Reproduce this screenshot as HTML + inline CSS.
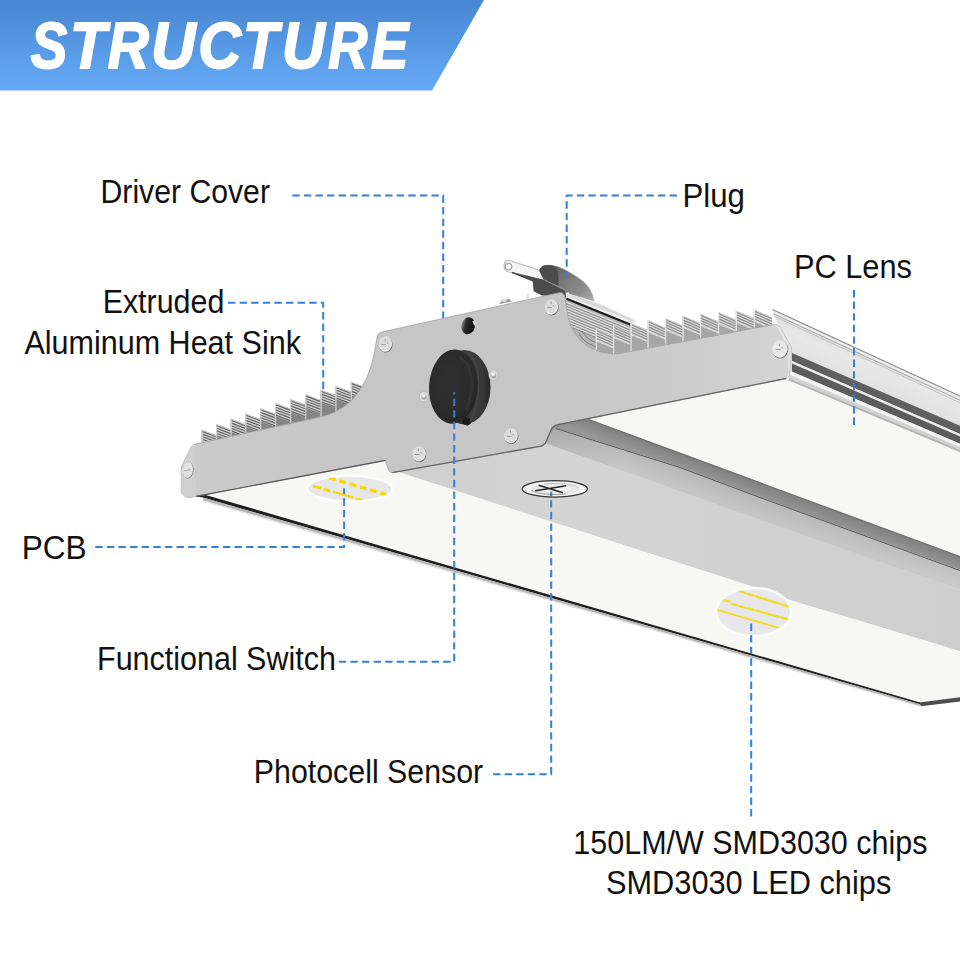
<!DOCTYPE html>
<html><head><meta charset="utf-8"><title>Structure</title>
<style>html,body{margin:0;padding:0;background:#fff;}body{width:960px;height:960px;overflow:hidden;font-family:"Liberation Sans",sans-serif;}svg{display:block;}</style>
</head><body>
<svg width="960" height="960" viewBox="0 0 960 960">
<defs>
<linearGradient id="ban" x1="0" y1="0" x2="0" y2="1"><stop offset="0" stop-color="#4786d1"/><stop offset="1" stop-color="#65aaf6"/></linearGradient>
<linearGradient id="cap" x1="0" y1="0" x2="1" y2="0"><stop offset="0" stop-color="#cbcbcb"/><stop offset="0.3" stop-color="#c6c6c6"/><stop offset="0.62" stop-color="#c6c6c6"/><stop offset="0.88" stop-color="#cecece"/><stop offset="1" stop-color="#d5d5d5"/></linearGradient>
<linearGradient id="chan" x1="0" y1="0" x2="1" y2="0"><stop offset="0" stop-color="#cecece"/><stop offset="0.3" stop-color="#d4d4d4"/><stop offset="1" stop-color="#cecece"/></linearGradient>
<linearGradient id="rail" gradientUnits="userSpaceOnUse" x1="800" y1="326" x2="787" y2="358"><stop offset="0" stop-color="#dedede"/><stop offset="0.3" stop-color="#e8e8e8"/><stop offset="1" stop-color="#e0e0e0"/></linearGradient>
<linearGradient id="dband" gradientUnits="userSpaceOnUse" x1="589" y1="419" x2="584.2" y2="432"><stop offset="0" stop-color="#666666"/><stop offset="0.14" stop-color="#828282"/><stop offset="0.6" stop-color="#8c8c8c"/><stop offset="1" stop-color="#969696"/></linearGradient>
<linearGradient id="lband" gradientUnits="userSpaceOnUse" x1="589" y1="432" x2="581" y2="455"><stop offset="0" stop-color="#b6b6b6"/><stop offset="1" stop-color="#c8c8c8"/></linearGradient>
<linearGradient id="lshade" gradientUnits="userSpaceOnUse" x1="546" y1="0" x2="960" y2="0"><stop offset="0" stop-color="#000" stop-opacity="0.10"/><stop offset="0.18" stop-color="#000" stop-opacity="0.0"/><stop offset="1" stop-color="#fff" stop-opacity="0.06"/></linearGradient>
<linearGradient id="hole" x1="0" y1="0" x2="1" y2="0"><stop offset="0" stop-color="#8a8a8a"/><stop offset="0.3" stop-color="#2a2a2a"/><stop offset="1" stop-color="#0e0e0e"/></linearGradient>
<radialGradient id="knob" cx="0.42" cy="0.42" r="0.62"><stop offset="0" stop-color="#303030"/><stop offset="0.75" stop-color="#2b2b2b"/><stop offset="1" stop-color="#242424"/></radialGradient>
<linearGradient id="rim" x1="0" y1="0" x2="1" y2="0"><stop offset="0" stop-color="#333"/><stop offset="0.6" stop-color="#3e3e3e"/><stop offset="0.85" stop-color="#383838"/><stop offset="1" stop-color="#262626"/></linearGradient>
<linearGradient id="plugb" gradientUnits="userSpaceOnUse" x1="556" y1="268" x2="592" y2="300"><stop offset="0" stop-color="#646464"/><stop offset="0.3" stop-color="#787878"/><stop offset="0.7" stop-color="#8c8c8c"/><stop offset="1" stop-color="#a8a8a8"/></linearGradient>
</defs>
<rect width="960" height="960" fill="#fff"/>
<polygon points="0.0,0.0 484.0,0.0 432.0,90.5 0.0,90.5" fill="url(#ban)" />
<text transform="translate(30.73,68.1) scale(0.8557,1.012)" font-family="Liberation Sans, sans-serif" font-weight="bold" font-style="italic" font-size="64" fill="#fff" stroke="#fff" stroke-width="1.8">S</text>
<text transform="translate(70.00,68.1) scale(0.9241,1.012)" font-family="Liberation Sans, sans-serif" font-weight="bold" font-style="italic" font-size="64" fill="#fff" stroke="#fff" stroke-width="1.8">T</text>
<text transform="translate(107.86,68.1) scale(0.8900,1.012)" font-family="Liberation Sans, sans-serif" font-weight="bold" font-style="italic" font-size="64" fill="#fff" stroke="#fff" stroke-width="1.8">R</text>
<text transform="translate(151.07,68.1) scale(0.9638,1.012)" font-family="Liberation Sans, sans-serif" font-weight="bold" font-style="italic" font-size="64" fill="#fff" stroke="#fff" stroke-width="1.8">U</text>
<text transform="translate(198.21,68.1) scale(0.9243,1.012)" font-family="Liberation Sans, sans-serif" font-weight="bold" font-style="italic" font-size="64" fill="#fff" stroke="#fff" stroke-width="1.8">C</text>
<text transform="translate(242.99,68.1) scale(0.9013,1.012)" font-family="Liberation Sans, sans-serif" font-weight="bold" font-style="italic" font-size="64" fill="#fff" stroke="#fff" stroke-width="1.8">T</text>
<text transform="translate(282.11,68.1) scale(0.9257,1.012)" font-family="Liberation Sans, sans-serif" font-weight="bold" font-style="italic" font-size="64" fill="#fff" stroke="#fff" stroke-width="1.8">U</text>
<text transform="translate(328.19,68.1) scale(0.8480,1.012)" font-family="Liberation Sans, sans-serif" font-weight="bold" font-style="italic" font-size="64" fill="#fff" stroke="#fff" stroke-width="1.8">R</text>
<text transform="translate(370.91,68.1) scale(0.8755,1.012)" font-family="Liberation Sans, sans-serif" font-weight="bold" font-style="italic" font-size="64" fill="#fff" stroke="#fff" stroke-width="1.8">E</text>
<polygon points="772.0,309.0 960.0,395.5 960.0,453.0 788.0,378.0 791.0,349.0 777.0,322.0" fill="url(#rail)" />
<line x1="772.5" y1="309.5" x2="960.0" y2="396.0" stroke="#8c8c8c" stroke-width="1.1" />
<line x1="772.5" y1="311.6" x2="960.0" y2="398.2" stroke="#f2f2f2" stroke-width="1.2" />
<line x1="773.0" y1="313.6" x2="960.0" y2="400.2" stroke="#a2a2a2" stroke-width="0.9" />
<line x1="774.0" y1="316.2" x2="960.0" y2="402.8" stroke="#bdbdbd" stroke-width="0.8" />
<polygon points="792.0,353.0 960.0,425.8 960.0,434.0 792.0,361.0" fill="#606060" />
<polygon points="792.0,361.0 960.0,434.0 960.0,436.6 792.0,363.5" fill="#ececec" />
<polygon points="792.0,363.5 960.0,436.6 960.0,443.8 792.0,371.5" fill="#5c5c5c" />
<polygon points="791.0,371.5 960.0,443.8 960.0,447.0 790.0,375.0" fill="#f4f4f4" />
<polygon points="790.0,375.0 960.0,447.0 960.0,450.0 789.0,378.5" fill="#d2d2d2" />
<polygon points="789.0,378.5 960.0,450.0 960.0,452.4 788.0,380.5" fill="#b4b4b2" />
<polygon points="589.0,419.0 788.0,377.5 788.0,380.3 960.0,452.2 960.0,556.0" fill="#f7f7f4" />
<polygon points="546.0,432.0 560.0,421.0 566.0,432.0 548.0,447.0" fill="#9a9a9a" />
<polygon points="553.0,425.0 589.0,419.0 960.0,556.0 960.0,570.0 760.0,497.0 680.0,467.0 556.0,428.0" fill="url(#dband)" />
<polygon points="556.0,428.0 680.0,467.0 760.0,497.0 960.0,570.0 960.0,590.0 760.0,521.0 680.0,491.7 546.0,444.0 549.0,434.0" fill="url(#lband)" />
<polygon points="556.0,428.0 680.0,467.0 760.0,497.0 960.0,570.0 960.0,590.0 760.0,521.0 680.0,491.7 546.0,444.0 549.0,434.0" fill="url(#lshade)" />
<polyline points="556,428.5 680,467.5 760,497.5 960,570.5" fill="none" stroke="#5c5c5c" stroke-width="1.1"/>
<polyline points="546,444 680,491.7 760,521 960,590" fill="none" stroke="#d4d4d4" stroke-width="1"/>
<polygon points="385.0,472.0 544.0,445.0 546.0,444.0 960.0,590.0 960.0,651.3 880.0,626.9 791.0,600.6 750.0,585.8 600.0,537.5 398.0,472.0" fill="url(#chan)" />
<polygon points="196.0,496.0 386.0,460.0 392.0,473.0 398.0,472.0 600.0,537.5 750.0,585.8 791.0,600.6 880.0,626.9 960.0,651.3 960.0,698.0 920.0,702.8 203.0,494.6" fill="#f7f7f4" />
<polygon points="919.0,702.5 960.0,697.2 960.0,701.6 921.0,706.3" fill="#4e4e4e" />
<polygon points="196.0,493.2 203.0,494.2 920.0,702.5 920.0,704.2 203.0,497.6 196.0,496.6" fill="#1f1f1f" />
<polygon points="203.0,497.6 920.0,704.2 920.0,706.0 203.0,500.2" fill="#a9a9a9" opacity="0.85"/>
<polygon points="203.0,500.2 920.0,706.0 920.0,707.0 203.0,501.6" fill="#d8d8d8" opacity="0.7"/>
<polygon points="201.5,429.8 216.0,435.0 216.0,443.1 201.5,446.2" fill="#858585" />
<polygon points="201.5,429.8 216.0,435.0 216.0,448.0 201.5,442.8" fill="#dadada" />
<line x1="202.3" y1="431.5" x2="216.0" y2="436.7" stroke="#5e5e5e" stroke-width="1.15" />
<line x1="202.3" y1="434.1" x2="216.0" y2="439.3" stroke="#5e5e5e" stroke-width="1.15" />
<line x1="202.3" y1="436.7" x2="216.0" y2="441.9" stroke="#5e5e5e" stroke-width="1.15" />
<line x1="202.3" y1="439.3" x2="216.0" y2="444.5" stroke="#5e5e5e" stroke-width="1.15" />
<line x1="202.3" y1="441.9" x2="216.0" y2="447.1" stroke="#5e5e5e" stroke-width="1.15" />
<line x1="202.1" y1="429.5" x2="202.1" y2="446.2" stroke="#cfcfcf" stroke-width="1.15" />
<polygon points="216.0,424.0 230.6,429.3 230.6,440.0 216.0,443.1" fill="#858585" />
<polygon points="216.0,424.0 230.6,429.3 230.6,442.3 216.0,437.0" fill="#dadada" />
<line x1="216.8" y1="425.7" x2="230.6" y2="431.0" stroke="#5e5e5e" stroke-width="1.15" />
<line x1="216.8" y1="428.3" x2="230.6" y2="433.6" stroke="#5e5e5e" stroke-width="1.15" />
<line x1="216.8" y1="430.9" x2="230.6" y2="436.2" stroke="#5e5e5e" stroke-width="1.15" />
<line x1="216.8" y1="433.5" x2="230.6" y2="438.8" stroke="#5e5e5e" stroke-width="1.15" />
<line x1="216.8" y1="436.1" x2="230.6" y2="441.4" stroke="#5e5e5e" stroke-width="1.15" />
<line x1="216.6" y1="423.7" x2="216.6" y2="443.1" stroke="#cfcfcf" stroke-width="1.15" />
<polygon points="230.6,418.8 245.2,424.1 245.2,436.9 230.6,440.0" fill="#858585" />
<polygon points="230.6,418.8 245.2,424.1 245.2,437.1 230.6,431.8" fill="#dadada" />
<line x1="231.4" y1="420.5" x2="245.2" y2="425.8" stroke="#5e5e5e" stroke-width="1.15" />
<line x1="231.4" y1="423.1" x2="245.2" y2="428.4" stroke="#5e5e5e" stroke-width="1.15" />
<line x1="231.4" y1="425.7" x2="245.2" y2="431.0" stroke="#5e5e5e" stroke-width="1.15" />
<line x1="231.4" y1="428.3" x2="245.2" y2="433.6" stroke="#5e5e5e" stroke-width="1.15" />
<line x1="231.4" y1="430.9" x2="245.2" y2="436.2" stroke="#5e5e5e" stroke-width="1.15" />
<line x1="231.2" y1="418.5" x2="231.2" y2="440.0" stroke="#cfcfcf" stroke-width="1.15" />
<polygon points="245.2,413.5 260.2,418.9 260.2,433.7 245.2,436.9" fill="#858585" />
<polygon points="245.2,413.5 260.2,418.9 260.2,431.9 245.2,426.5" fill="#dadada" />
<line x1="246.0" y1="415.2" x2="260.2" y2="420.6" stroke="#5e5e5e" stroke-width="1.15" />
<line x1="246.0" y1="417.8" x2="260.2" y2="423.2" stroke="#5e5e5e" stroke-width="1.15" />
<line x1="246.0" y1="420.4" x2="260.2" y2="425.8" stroke="#5e5e5e" stroke-width="1.15" />
<line x1="246.0" y1="423.0" x2="260.2" y2="428.4" stroke="#5e5e5e" stroke-width="1.15" />
<line x1="246.0" y1="425.6" x2="260.2" y2="431.0" stroke="#5e5e5e" stroke-width="1.15" />
<line x1="245.8" y1="413.2" x2="245.8" y2="436.9" stroke="#cfcfcf" stroke-width="1.15" />
<polygon points="260.2,408.3 275.0,413.6 275.0,430.6 260.2,433.7" fill="#858585" />
<polygon points="260.2,408.3 275.0,413.6 275.0,426.6 260.2,421.3" fill="#dadada" />
<line x1="261.0" y1="410.0" x2="275.0" y2="415.3" stroke="#5e5e5e" stroke-width="1.15" />
<line x1="261.0" y1="412.6" x2="275.0" y2="417.9" stroke="#5e5e5e" stroke-width="1.15" />
<line x1="261.0" y1="415.2" x2="275.0" y2="420.5" stroke="#5e5e5e" stroke-width="1.15" />
<line x1="261.0" y1="417.8" x2="275.0" y2="423.1" stroke="#5e5e5e" stroke-width="1.15" />
<line x1="261.0" y1="420.4" x2="275.0" y2="425.7" stroke="#5e5e5e" stroke-width="1.15" />
<line x1="260.8" y1="408.0" x2="260.8" y2="433.7" stroke="#cfcfcf" stroke-width="1.15" />
<polygon points="275.0,403.0 290.0,408.4 290.0,427.4 275.0,430.6" fill="#858585" />
<polygon points="275.0,403.0 290.0,408.4 290.0,421.4 275.0,416.0" fill="#dadada" />
<line x1="275.8" y1="404.7" x2="290.0" y2="410.1" stroke="#5e5e5e" stroke-width="1.15" />
<line x1="275.8" y1="407.3" x2="290.0" y2="412.7" stroke="#5e5e5e" stroke-width="1.15" />
<line x1="275.8" y1="409.9" x2="290.0" y2="415.3" stroke="#5e5e5e" stroke-width="1.15" />
<line x1="275.8" y1="412.5" x2="290.0" y2="417.9" stroke="#5e5e5e" stroke-width="1.15" />
<line x1="275.8" y1="415.1" x2="290.0" y2="420.5" stroke="#5e5e5e" stroke-width="1.15" />
<line x1="275.6" y1="402.7" x2="275.6" y2="430.6" stroke="#cfcfcf" stroke-width="1.15" />
<polygon points="290.0,399.0 305.2,404.5 305.2,424.1 290.0,427.4" fill="#858585" />
<polygon points="290.0,399.0 305.2,404.5 305.2,417.5 290.0,412.0" fill="#dadada" />
<line x1="290.8" y1="400.7" x2="305.2" y2="406.2" stroke="#5e5e5e" stroke-width="1.15" />
<line x1="290.8" y1="403.3" x2="305.2" y2="408.8" stroke="#5e5e5e" stroke-width="1.15" />
<line x1="290.8" y1="405.9" x2="305.2" y2="411.4" stroke="#5e5e5e" stroke-width="1.15" />
<line x1="290.8" y1="408.5" x2="305.2" y2="414.0" stroke="#5e5e5e" stroke-width="1.15" />
<line x1="290.8" y1="411.1" x2="305.2" y2="416.6" stroke="#5e5e5e" stroke-width="1.15" />
<line x1="290.6" y1="398.7" x2="290.6" y2="427.4" stroke="#cfcfcf" stroke-width="1.15" />
<polygon points="305.2,394.4 320.6,399.9 320.6,420.9 305.2,424.1" fill="#858585" />
<polygon points="305.2,394.4 320.6,399.9 320.6,412.9 305.2,407.4" fill="#dadada" />
<line x1="306.0" y1="396.1" x2="320.6" y2="401.6" stroke="#5e5e5e" stroke-width="1.15" />
<line x1="306.0" y1="398.7" x2="320.6" y2="404.2" stroke="#5e5e5e" stroke-width="1.15" />
<line x1="306.0" y1="401.3" x2="320.6" y2="406.8" stroke="#5e5e5e" stroke-width="1.15" />
<line x1="306.0" y1="403.9" x2="320.6" y2="409.4" stroke="#5e5e5e" stroke-width="1.15" />
<line x1="306.0" y1="406.5" x2="320.6" y2="412.0" stroke="#5e5e5e" stroke-width="1.15" />
<line x1="305.8" y1="394.1" x2="305.8" y2="424.1" stroke="#cfcfcf" stroke-width="1.15" />
<polygon points="320.6,389.8 335.4,395.1 335.4,417.7 320.6,420.9" fill="#858585" />
<polygon points="320.6,389.8 335.4,395.1 335.4,408.1 320.6,402.8" fill="#dadada" />
<line x1="321.4" y1="391.5" x2="335.4" y2="396.8" stroke="#5e5e5e" stroke-width="1.15" />
<line x1="321.4" y1="394.1" x2="335.4" y2="399.4" stroke="#5e5e5e" stroke-width="1.15" />
<line x1="321.4" y1="396.7" x2="335.4" y2="402.0" stroke="#5e5e5e" stroke-width="1.15" />
<line x1="321.4" y1="399.3" x2="335.4" y2="404.6" stroke="#5e5e5e" stroke-width="1.15" />
<line x1="321.4" y1="401.9" x2="335.4" y2="407.2" stroke="#5e5e5e" stroke-width="1.15" />
<line x1="321.2" y1="389.5" x2="321.2" y2="420.9" stroke="#cfcfcf" stroke-width="1.15" />
<polygon points="335.4,386.0 350.8,391.5 350.8,414.5 335.4,417.7" fill="#858585" />
<polygon points="335.4,386.0 350.8,391.5 350.8,404.5 335.4,399.0" fill="#dadada" />
<line x1="336.2" y1="387.7" x2="350.8" y2="393.2" stroke="#5e5e5e" stroke-width="1.15" />
<line x1="336.2" y1="390.3" x2="350.8" y2="395.8" stroke="#5e5e5e" stroke-width="1.15" />
<line x1="336.2" y1="392.9" x2="350.8" y2="398.4" stroke="#5e5e5e" stroke-width="1.15" />
<line x1="336.2" y1="395.5" x2="350.8" y2="401.0" stroke="#5e5e5e" stroke-width="1.15" />
<line x1="336.2" y1="398.1" x2="350.8" y2="403.6" stroke="#5e5e5e" stroke-width="1.15" />
<line x1="336.0" y1="385.7" x2="336.0" y2="417.7" stroke="#cfcfcf" stroke-width="1.15" />
<polygon points="350.8,381.9 366.2,387.4 366.2,411.2 350.8,414.5" fill="#858585" />
<polygon points="350.8,381.9 366.2,387.4 366.2,400.4 350.8,394.9" fill="#dadada" />
<line x1="351.6" y1="383.6" x2="366.2" y2="389.1" stroke="#5e5e5e" stroke-width="1.15" />
<line x1="351.6" y1="386.2" x2="366.2" y2="391.7" stroke="#5e5e5e" stroke-width="1.15" />
<line x1="351.6" y1="388.8" x2="366.2" y2="394.3" stroke="#5e5e5e" stroke-width="1.15" />
<line x1="351.6" y1="391.4" x2="366.2" y2="396.9" stroke="#5e5e5e" stroke-width="1.15" />
<line x1="351.6" y1="394.0" x2="366.2" y2="399.5" stroke="#5e5e5e" stroke-width="1.15" />
<line x1="351.4" y1="381.6" x2="351.4" y2="414.5" stroke="#cfcfcf" stroke-width="1.15" />
<polygon points="564.0,296.0 640.0,327.0 640.0,356.0 606.0,358.0 585.0,348.0 572.0,330.0 566.0,312.0" fill="#b4b4b4" />
<line x1="566.0" y1="302.2" x2="640.0" y2="332.7" stroke="#e6e6e6" stroke-width="1.1" />
<line x1="566.0" y1="303.5" x2="640.0" y2="334.0" stroke="#7c7c7c" stroke-width="0.8" />
<line x1="566.0" y1="304.9" x2="640.0" y2="335.4" stroke="#e6e6e6" stroke-width="1.1" />
<line x1="566.0" y1="306.2" x2="640.0" y2="336.7" stroke="#7c7c7c" stroke-width="0.8" />
<line x1="566.0" y1="307.6" x2="640.0" y2="338.1" stroke="#e6e6e6" stroke-width="1.1" />
<line x1="566.0" y1="308.9" x2="640.0" y2="339.4" stroke="#7c7c7c" stroke-width="0.8" />
<line x1="566.0" y1="310.3" x2="640.0" y2="340.8" stroke="#e6e6e6" stroke-width="1.1" />
<line x1="566.0" y1="311.6" x2="640.0" y2="342.1" stroke="#7c7c7c" stroke-width="0.8" />
<line x1="566.0" y1="313.0" x2="640.0" y2="343.5" stroke="#e6e6e6" stroke-width="1.1" />
<line x1="566.0" y1="314.3" x2="640.0" y2="344.8" stroke="#7c7c7c" stroke-width="0.8" />
<line x1="566.0" y1="315.7" x2="640.0" y2="346.2" stroke="#e6e6e6" stroke-width="1.1" />
<line x1="566.0" y1="317.0" x2="640.0" y2="347.5" stroke="#7c7c7c" stroke-width="0.8" />
<line x1="566.0" y1="318.4" x2="640.0" y2="348.9" stroke="#e6e6e6" stroke-width="1.1" />
<line x1="566.0" y1="319.7" x2="640.0" y2="350.2" stroke="#7c7c7c" stroke-width="0.8" />
<line x1="566.0" y1="321.1" x2="640.0" y2="351.6" stroke="#e6e6e6" stroke-width="1.1" />
<line x1="566.0" y1="322.4" x2="640.0" y2="352.9" stroke="#7c7c7c" stroke-width="0.8" />
<line x1="566.0" y1="323.8" x2="640.0" y2="354.3" stroke="#e6e6e6" stroke-width="1.1" />
<line x1="566.0" y1="325.1" x2="640.0" y2="355.6" stroke="#7c7c7c" stroke-width="0.8" />
<path d="M579,333 C582,341 590,345 600,348 M582,331 C586,338 592,342 603,345" stroke="#777" stroke-width="0.9" fill="none"/>
<polygon points="566.0,292.0 597.0,303.0 636.0,320.0 633.0,324.5 567.0,297.5" fill="#efefef" />
<polygon points="567.0,294.0 600.0,304.0 635.0,320.5 634.0,322.0 567.0,296.0" fill="#d9d9d9" />
<line x1="566.5" y1="298.8" x2="632.0" y2="325.2" stroke="#1e1e1e" stroke-width="2" />
<polygon points="595.8,329.0 613.0,336.2 613.0,359.6 595.8,362.9" fill="#a6a6a6" />
<polygon points="595.8,329.0 613.0,336.2 613.0,348.2 595.8,341.0" fill="#dcdcdc" />
<line x1="596.5" y1="330.7" x2="613.0" y2="337.9" stroke="#8a8a8a" stroke-width="1.15" />
<line x1="596.5" y1="333.3" x2="613.0" y2="340.5" stroke="#8a8a8a" stroke-width="1.15" />
<line x1="596.5" y1="335.9" x2="613.0" y2="343.1" stroke="#8a8a8a" stroke-width="1.15" />
<line x1="596.5" y1="338.5" x2="613.0" y2="345.7" stroke="#8a8a8a" stroke-width="1.15" />
<line x1="596.4" y1="328.7" x2="596.4" y2="362.9" stroke="#e6e6e6" stroke-width="1.15" />
<polygon points="613.0,325.8 630.5,333.1 630.5,356.2 613.0,359.6" fill="#a6a6a6" />
<polygon points="613.0,325.8 630.5,333.1 630.5,345.1 613.0,337.8" fill="#dcdcdc" />
<line x1="613.8" y1="327.4" x2="630.5" y2="334.8" stroke="#8a8a8a" stroke-width="1.15" />
<line x1="613.8" y1="330.1" x2="630.5" y2="337.4" stroke="#8a8a8a" stroke-width="1.15" />
<line x1="613.8" y1="332.6" x2="630.5" y2="340.0" stroke="#8a8a8a" stroke-width="1.15" />
<line x1="613.8" y1="335.2" x2="630.5" y2="342.6" stroke="#8a8a8a" stroke-width="1.15" />
<line x1="613.6" y1="325.4" x2="613.6" y2="359.6" stroke="#e6e6e6" stroke-width="1.15" />
<polygon points="630.5,323.0 647.5,330.1 647.5,353.0 630.5,356.2" fill="#a6a6a6" />
<polygon points="630.5,323.0 647.5,330.1 647.5,342.1 630.5,335.0" fill="#dcdcdc" />
<line x1="631.3" y1="324.7" x2="647.5" y2="331.8" stroke="#8a8a8a" stroke-width="1.15" />
<line x1="631.3" y1="327.3" x2="647.5" y2="334.4" stroke="#8a8a8a" stroke-width="1.15" />
<line x1="631.3" y1="329.9" x2="647.5" y2="337.0" stroke="#8a8a8a" stroke-width="1.15" />
<line x1="631.3" y1="332.5" x2="647.5" y2="339.6" stroke="#8a8a8a" stroke-width="1.15" />
<line x1="631.1" y1="322.7" x2="631.1" y2="356.2" stroke="#e6e6e6" stroke-width="1.15" />
<polygon points="647.5,320.0 665.0,327.4 665.0,349.6 647.5,353.0" fill="#a6a6a6" />
<polygon points="647.5,320.0 665.0,327.4 665.0,339.4 647.5,332.0" fill="#dcdcdc" />
<line x1="648.3" y1="321.7" x2="665.0" y2="329.1" stroke="#8a8a8a" stroke-width="1.15" />
<line x1="648.3" y1="324.3" x2="665.0" y2="331.7" stroke="#8a8a8a" stroke-width="1.15" />
<line x1="648.3" y1="326.9" x2="665.0" y2="334.2" stroke="#8a8a8a" stroke-width="1.15" />
<line x1="648.3" y1="329.5" x2="665.0" y2="336.9" stroke="#8a8a8a" stroke-width="1.15" />
<line x1="648.1" y1="319.7" x2="648.1" y2="353.0" stroke="#e6e6e6" stroke-width="1.15" />
<polygon points="665.0,318.0 682.5,325.4 682.5,346.3 665.0,349.6" fill="#a6a6a6" />
<polygon points="665.0,318.0 682.5,325.4 682.5,337.4 665.0,330.0" fill="#dcdcdc" />
<line x1="665.8" y1="319.7" x2="682.5" y2="327.1" stroke="#8a8a8a" stroke-width="1.15" />
<line x1="665.8" y1="322.3" x2="682.5" y2="329.7" stroke="#8a8a8a" stroke-width="1.15" />
<line x1="665.8" y1="324.9" x2="682.5" y2="332.2" stroke="#8a8a8a" stroke-width="1.15" />
<line x1="665.8" y1="327.5" x2="682.5" y2="334.9" stroke="#8a8a8a" stroke-width="1.15" />
<line x1="665.6" y1="317.7" x2="665.6" y2="349.6" stroke="#e6e6e6" stroke-width="1.15" />
<polygon points="682.5,315.8 700.0,323.1 700.0,342.9 682.5,346.3" fill="#a6a6a6" />
<polygon points="682.5,315.8 700.0,323.1 700.0,335.1 682.5,327.8" fill="#dcdcdc" />
<line x1="683.3" y1="317.4" x2="700.0" y2="324.8" stroke="#8a8a8a" stroke-width="1.15" />
<line x1="683.3" y1="320.1" x2="700.0" y2="327.4" stroke="#8a8a8a" stroke-width="1.15" />
<line x1="683.3" y1="322.6" x2="700.0" y2="330.0" stroke="#8a8a8a" stroke-width="1.15" />
<line x1="683.3" y1="325.2" x2="700.0" y2="332.6" stroke="#8a8a8a" stroke-width="1.15" />
<line x1="683.1" y1="315.4" x2="683.1" y2="346.3" stroke="#e6e6e6" stroke-width="1.15" />
<polygon points="700.0,313.8 718.0,321.3 718.0,339.5 700.0,342.9" fill="#a6a6a6" />
<polygon points="700.0,313.8 718.0,321.3 718.0,333.3 700.0,325.8" fill="#dcdcdc" />
<line x1="700.8" y1="315.4" x2="718.0" y2="323.0" stroke="#8a8a8a" stroke-width="1.15" />
<line x1="700.8" y1="318.1" x2="718.0" y2="325.6" stroke="#8a8a8a" stroke-width="1.15" />
<line x1="700.8" y1="320.6" x2="718.0" y2="328.2" stroke="#8a8a8a" stroke-width="1.15" />
<line x1="700.8" y1="323.2" x2="718.0" y2="330.8" stroke="#8a8a8a" stroke-width="1.15" />
<line x1="700.6" y1="313.4" x2="700.6" y2="342.9" stroke="#e6e6e6" stroke-width="1.15" />
<polygon points="718.0,312.0 735.8,319.5 735.8,336.1 718.0,339.5" fill="#a6a6a6" />
<polygon points="718.0,312.0 735.8,319.5 735.8,331.5 718.0,324.0" fill="#dcdcdc" />
<line x1="718.8" y1="313.7" x2="735.8" y2="321.2" stroke="#8a8a8a" stroke-width="1.15" />
<line x1="718.8" y1="316.3" x2="735.8" y2="323.8" stroke="#8a8a8a" stroke-width="1.15" />
<line x1="718.8" y1="318.9" x2="735.8" y2="326.4" stroke="#8a8a8a" stroke-width="1.15" />
<line x1="718.8" y1="321.5" x2="735.8" y2="329.0" stroke="#8a8a8a" stroke-width="1.15" />
<line x1="718.6" y1="311.7" x2="718.6" y2="339.5" stroke="#e6e6e6" stroke-width="1.15" />
<polygon points="735.8,310.5 753.8,318.1 753.8,332.7 735.8,336.1" fill="#a6a6a6" />
<polygon points="735.8,310.5 753.8,318.1 753.8,330.1 735.8,322.5" fill="#dcdcdc" />
<line x1="736.5" y1="312.2" x2="753.8" y2="319.8" stroke="#8a8a8a" stroke-width="1.15" />
<line x1="736.5" y1="314.8" x2="753.8" y2="322.4" stroke="#8a8a8a" stroke-width="1.15" />
<line x1="736.5" y1="317.4" x2="753.8" y2="325.0" stroke="#8a8a8a" stroke-width="1.15" />
<line x1="736.5" y1="320.0" x2="753.8" y2="327.6" stroke="#8a8a8a" stroke-width="1.15" />
<line x1="736.4" y1="310.2" x2="736.4" y2="336.1" stroke="#e6e6e6" stroke-width="1.15" />
<polygon points="753.8,309.5 771.8,317.1 771.8,329.2 753.8,332.7" fill="#a6a6a6" />
<polygon points="753.8,309.5 771.8,317.1 771.8,329.1 753.8,321.5" fill="#dcdcdc" />
<line x1="754.5" y1="311.2" x2="771.8" y2="318.8" stroke="#8a8a8a" stroke-width="1.15" />
<line x1="754.5" y1="313.8" x2="771.8" y2="321.4" stroke="#8a8a8a" stroke-width="1.15" />
<line x1="754.5" y1="316.4" x2="771.8" y2="324.0" stroke="#8a8a8a" stroke-width="1.15" />
<line x1="754.5" y1="319.0" x2="771.8" y2="326.6" stroke="#8a8a8a" stroke-width="1.15" />
<line x1="754.4" y1="309.2" x2="754.4" y2="332.7" stroke="#e6e6e6" stroke-width="1.15" />
<path d="M508.5,260.3 C503.5,260 502.5,268.5 507,271.5 L545,281 L548,273 Z" fill="#f6f6f6" stroke="#bdbdbd" stroke-width="1.2"/>
<circle cx="508.4" cy="266.6" r="3.3" fill="#fff" stroke="#a6a6a6" stroke-width="1.3"/>
<polygon points="511.8,272.0 522.0,274.4 526.5,275.4 545.0,280.0 565.5,290.5 566.0,297.0 542.0,295.5 533.6,291.2 532.6,280.4" fill="#4b4b4b" />
<line x1="512.0" y1="272.4" x2="533.0" y2="281.0" stroke="#3c3c3c" stroke-width="1.2" />
<path d="M539.4,270.6 C540.5,267 543,265.4 546.5,265.3 L552,265.5 L557.5,266.7 L563.5,269.2 L570,272.8 L576.5,276.7 L582.5,281 L587,285.4 L590,289.8 L592.5,295 L594.2,301 L566,292.5 L565,290 L544.4,280 Z" fill="url(#plugb)" stroke="url(#plugb)" stroke-width="0.6" stroke-linejoin="round"/>
<path d="M539.4,270.6 C540.5,267 543,265.4 546.5,265.4 C549.5,265.2 552,265.5 554,266.3 C556.5,268 557.6,270 558,273 C558.6,277 558.6,281 558.2,285.6 L544.4,280 C542.5,277.5 541,274.5 539.4,270.6 Z" fill="#4c4c4c"/>
<path d="M544.4,280 L565,290" stroke="#8e8e8e" stroke-width="0.9"/>
<path d="M566.5,292.5 h2.6 v5 h-2.6 z" fill="#e4e4e4"/>
<path d="M499,304 l3,-3.5 l7,-1.5 l3,2.5 z" fill="#9a9a9a"/>
<path d="M500,301 l2.5,-2.5 l4,1 l-1,2.5 z" fill="#e2e2e2"/>
<path d="M526,299 l0.5,-5.5 l2.5,0.3 l0.3,5.2 z" fill="#e4e4e4"/>
<path d="M194.5,444.3 L318,417.5 C350,411 367.5,388 374.6,352 L377.2,336.3 Q377.9,332.9 381.5,332.1 L559,292.8 Q564,291.8 564.6,297 L566.5,308 C569,334 586,354 617,354 L774,324.5 Q778,324 780,327 L790.5,346 Q792,349 791.5,352 L789,376 Q788.5,378 786,378.5 L556,425 Q553,425.5 552,428 L545.3,443.6 Q544.3,445.6 541.3,446.1 L392.4,472.6 Q389.8,473 388.6,470.4 L385.4,460.4 L189.5,497.6 Q186.5,498 185,496.2 L182,493.6 Q181.3,492.6 181.3,491 L181.3,468.5 Q181.3,467 182,465.6 L191.2,447 Q192.4,444.8 194.5,444.3 Z" fill="url(#cap)" stroke="#a2a2a2" stroke-width="0.8"/>
<path d="M194.5,444.3 L195.5,496.5 L189.5,497.6 Q186.5,498 185,496.2 L182,493.6 Q181.3,492.6 181.3,491 L181.3,468.5 Q181.3,467 182,465.6 L191.2,447 Q192.4,444.8 194.5,444.3 Z" fill="#d0d0d0"/>
<path d="M773,324.7 L774,324.5 Q778,324 780,327 L790.5,346 Q792,349 791.5,352 L789,376 Q788.5,378 786,378.5 L784,378.9 Q787.6,377.5 787.8,375 L788.4,351 Q788.4,348.5 787,346 L777.5,328 Q776,325.3 773,324.7 Z" fill="#e3e3e3"/>
<ellipse cx="188.3" cy="470.4" rx="5.3" ry="8.2" fill="#777" transform="rotate(6 188 470)"/>
<ellipse cx="187.8" cy="470" rx="5.2" ry="8.0" fill="#e2e2e2" transform="rotate(6 188 470)"/>
<path d="M184.3,470.8 L190.5,469.6" stroke="#999" stroke-width="0.9"/>
<path d="M196,496.4 L385.4,460.4" stroke="#555" stroke-width="1.2" fill="none"/>
<path d="M392.4,472.6 L541.3,446.1 L545.3,443.6 L552,428 L556,425 L786,378.5" stroke="#666" stroke-width="1.3" fill="none"/>
<ellipse cx="468.2" cy="325.8" rx="6.8" ry="8.6" fill="url(#hole)" transform="rotate(14 468.2 325.8)"/>
<path d="M472.3,321.2 l2.6,-0.6 l1.2,3 l-1.8,2.4 z" fill="#d6d6d6"/>
<ellipse cx="464.3" cy="387.2" rx="26.2" ry="37.2" fill="url(#rim)"/>
<path d="M463.5,416.8 l6.6,1.6 l0.8,5 l-3.6,2.4 l-5.8,-2.6 z" fill="#1b1b1b"/>
<ellipse cx="453.4" cy="386.6" rx="24.4" ry="37.1" fill="url(#knob)" transform="rotate(3.3 453.4 386.6)"/>
<path d="M459.5,357 C472,364 476,388 466,410" stroke="#3b3b3b" stroke-width="3" fill="none" opacity="0.55"/>
<path d="M466.5,351.5 C481.5,362 482.5,398 470,421.5" stroke="#4a4a4a" stroke-width="1.2" fill="none" opacity="0.8"/>
<g transform="rotate(12 385.5 344.0)">
<ellipse cx="386.1" cy="344.7" rx="6.7" ry="7.8" fill="#6a6a6a"/>
<ellipse cx="385.6" cy="344.2" rx="6.5" ry="7.6" fill="#f4f4f4"/>
<ellipse cx="385.1" cy="343.6" rx="6.1" ry="7.1" fill="#dddddd"/>
</g>
<path d="M381.3,344.7 h4.6 M385.1,338.8 v2.6 M387.3,342.4 l0.8,1.4" stroke="#8a8a8a" stroke-width="0.9" fill="none"/>
<g transform="rotate(12 551.5 306.9)">
<ellipse cx="552.1" cy="307.6" rx="6.7" ry="7.8" fill="#6a6a6a"/>
<ellipse cx="551.6" cy="307.1" rx="6.5" ry="7.6" fill="#f4f4f4"/>
<ellipse cx="551.1" cy="306.4" rx="6.1" ry="7.1" fill="#dddddd"/>
</g>
<path d="M547.3,307.6 h4.6 M551.1,301.7 v2.6 M553.3,305.3 l0.8,1.4" stroke="#8a8a8a" stroke-width="0.9" fill="none"/>
<g transform="rotate(12 419.0 453.8)">
<ellipse cx="419.6" cy="454.5" rx="6.9" ry="7.6" fill="#6a6a6a"/>
<ellipse cx="419.1" cy="454.0" rx="6.7" ry="7.4" fill="#f4f4f4"/>
<ellipse cx="418.6" cy="453.4" rx="6.3" ry="6.9" fill="#dddddd"/>
</g>
<path d="M414.8,454.5 h4.6 M418.6,448.6 v2.6 M420.8,452.2 l0.8,1.4" stroke="#8a8a8a" stroke-width="0.9" fill="none"/>
<g transform="rotate(12 511.0 435.6)">
<ellipse cx="511.6" cy="436.3" rx="6.9" ry="7.6" fill="#6a6a6a"/>
<ellipse cx="511.1" cy="435.8" rx="6.7" ry="7.4" fill="#f4f4f4"/>
<ellipse cx="510.6" cy="435.2" rx="6.3" ry="6.9" fill="#dddddd"/>
</g>
<path d="M506.8,436.3 h4.6 M510.6,430.4 v2.6 M512.8,434.0 l0.8,1.4" stroke="#8a8a8a" stroke-width="0.9" fill="none"/>
<g transform="rotate(12 780.0 348.8)">
<ellipse cx="780.6" cy="349.5" rx="7.7" ry="9.0" fill="#6a6a6a"/>
<ellipse cx="780.1" cy="349.0" rx="7.5" ry="8.8" fill="#f4f4f4"/>
<ellipse cx="779.6" cy="348.4" rx="7.1" ry="8.3" fill="#e8e8e8"/>
</g>
<path d="M775.8,349.5 h4.6 M779.6,343.6 v2.6 M781.8,347.2 l0.8,1.4" stroke="#8a8a8a" stroke-width="0.9" fill="none"/>
<ellipse cx="423.9" cy="396.5" rx="4.7" ry="5.4" fill="#dadada" stroke="#b4b4b4" stroke-width="0.8"/>
<circle cx="424.2" cy="397.1" r="2.6" fill="#a9a9a9"/>
<circle cx="423.6" cy="395.7" r="1.7" fill="#fafafa"/>
<ellipse cx="493.6" cy="375.1" rx="4.7" ry="5.4" fill="#dadada" stroke="#b4b4b4" stroke-width="0.8"/>
<circle cx="493.9" cy="375.7" r="2.6" fill="#a9a9a9"/>
<circle cx="493.3" cy="374.3" r="1.7" fill="#fafafa"/>
<clipPath id="cpL"><ellipse cx="349.7" cy="488.6" rx="42" ry="12.2"/></clipPath>
<clipPath id="cpR"><ellipse cx="753.6" cy="612" rx="37" ry="23.4"/></clipPath>
<ellipse cx="349.7" cy="488.6" rx="42.6" ry="12.8" fill="#e7e7ea" stroke="#fdfdfd" stroke-width="2.4"/>
<g clip-path="url(#cpL)">
<path d="M329.1,477.8 L393,496.7" stroke="#f4da08" stroke-width="3.5" stroke-dasharray="6.9,3.8" fill="none"/>
<path d="M313,486 L330.5,491.1" stroke="#f2d90a" stroke-width="2.8" stroke-dasharray="8.6,2.6" fill="none"/>
<path d="M333,491.8 L353,497.4 M356,498.5 L364,500.8" stroke="#f2d90a" stroke-width="2.2" fill="none"/>
</g>
<ellipse cx="753.6" cy="612" rx="37.6" ry="24" fill="#e8e8ec" stroke="#fdfdfd" stroke-width="2.4"/>
<g clip-path="url(#cpR)">
<path d="M739.5,591.2 L788.8,606.7" stroke="#f1dc22" stroke-width="2.3" stroke-dasharray="5.5,3.2" stroke-linecap="round" fill="none"/>
<path d="M739.5,591.2 L788.8,606.7" stroke="#f1dc22" stroke-width="1.3" fill="none"/>
<path d="M723.5,600.7 L729.5,601.2" stroke="#f1dc22" stroke-width="2.2" stroke-linecap="round" fill="none"/>
<path d="M731.5,603.8 L787.7,619.3" stroke="#f1dc22" stroke-width="2.3" stroke-dasharray="5.5,3.2" stroke-linecap="round" fill="none"/>
<path d="M731.5,603.8 L787.7,619.3" stroke="#f1dc22" stroke-width="1.3" fill="none"/>
<path d="M717.2,609.8 L778,627.6" stroke="#f1dc22" stroke-width="1.9" stroke-linecap="round" fill="none"/>
</g>
<ellipse cx="554.8" cy="488.9" rx="32.6" ry="8.2" fill="#f6f6f6" stroke="#333" stroke-width="1.25"/>
<ellipse cx="555.2" cy="489" rx="24.5" ry="5.7" fill="#e6e6e6"/>
<path d="M531.5,490.5 A24.5,5.7 0 0 0 566,494" stroke="#9c9c9c" stroke-width="1" fill="none"/>
<path d="M544,484 A24.5,5.7 0 0 1 579,487.6" stroke="#bdbdbd" stroke-width="0.9" fill="none"/>
<ellipse cx="556" cy="488.6" rx="15" ry="3.4" fill="#f2f2f2"/>
<path d="M538.6,485.2 L563,492.7 M535.3,490.8 L566.2,485.8" stroke="#262626" stroke-width="1.6" fill="none"/>
<path d="M292.3,195.6 H443.2 V318" fill="none" stroke="#347fd8" stroke-width="2" stroke-dasharray="7.4,4.2"/>
<path d="M677,195.6 H566.7 V278.5" fill="none" stroke="#347fd8" stroke-width="2" stroke-dasharray="7.4,4.2"/>
<path d="M854,290 V425" fill="none" stroke="#347fd8" stroke-width="2" stroke-dasharray="7.4,4.2"/>
<path d="M228,302.8 H323.2 V392" fill="none" stroke="#347fd8" stroke-width="2" stroke-dasharray="7.4,4.2"/>
<path d="M95.3,546.9 H344.1 V488.3" fill="none" stroke="#347fd8" stroke-width="2" stroke-dasharray="7.4,4.2"/>
<path d="M338.8,661.8 H454.2 V392.3" fill="none" stroke="#347fd8" stroke-width="2" stroke-dasharray="7.4,4.2"/>
<path d="M493,774.2 H551.2 V491.5" fill="none" stroke="#347fd8" stroke-width="2" stroke-dasharray="7.4,4.2"/>
<path d="M751.2,816.5 V620.5" fill="none" stroke="#347fd8" stroke-width="2" stroke-dasharray="7.4,4.2"/>
<text x="100.57" y="203.10" font-family="Liberation Sans, sans-serif" font-size="33" fill="#111" textLength="169.40" lengthAdjust="spacingAndGlyphs">Driver Cover</text>
<text x="682.48" y="206.60" font-family="Liberation Sans, sans-serif" font-size="33" fill="#111" textLength="62.51" lengthAdjust="spacingAndGlyphs">Plug</text>
<text x="793.95" y="277.50" font-family="Liberation Sans, sans-serif" font-size="33" fill="#111" textLength="118.07" lengthAdjust="spacingAndGlyphs">PC Lens</text>
<text x="102.63" y="313.20" font-family="Liberation Sans, sans-serif" font-size="33" fill="#111" textLength="121.74" lengthAdjust="spacingAndGlyphs">Extruded</text>
<text x="24.40" y="354.20" font-family="Liberation Sans, sans-serif" font-size="33" fill="#111" textLength="276.56" lengthAdjust="spacingAndGlyphs">Aluminum Heat Sink</text>
<text x="21.67" y="559.20" font-family="Liberation Sans, sans-serif" font-size="33" fill="#111" textLength="64.88" lengthAdjust="spacingAndGlyphs">PCB</text>
<text x="97.02" y="670.20" font-family="Liberation Sans, sans-serif" font-size="33" fill="#111" textLength="238.89" lengthAdjust="spacingAndGlyphs">Functional Switch</text>
<text x="253.84" y="782.70" font-family="Liberation Sans, sans-serif" font-size="33" fill="#111" textLength="229.35" lengthAdjust="spacingAndGlyphs">Photocell Sensor</text>
<text x="573.35" y="853.50" font-family="Liberation Sans, sans-serif" font-size="33" fill="#111" textLength="354.06" lengthAdjust="spacingAndGlyphs">150LM/W SMD3030 chips</text>
<text x="606.01" y="894.30" font-family="Liberation Sans, sans-serif" font-size="33" fill="#111" textLength="285.26" lengthAdjust="spacingAndGlyphs">SMD3030 LED chips</text>
</svg>
</body></html>
